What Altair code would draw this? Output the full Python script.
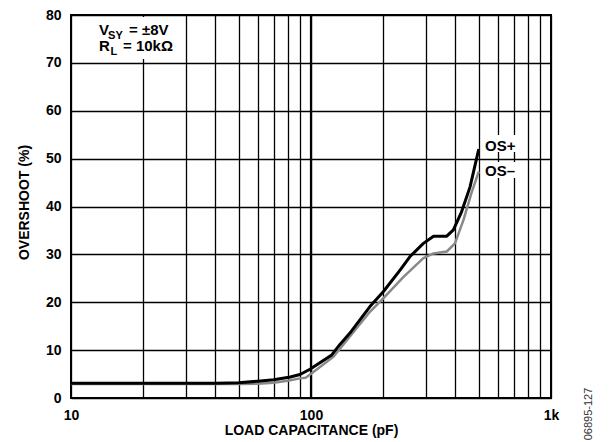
import altair as alt
import pandas as pd

# OS+ (black) curve
cap_pos = [10, 20, 30, 40, 50, 60, 70, 82, 90, 99, 122, 132, 145, 176, 200, 235, 258, 294, 324, 368, 392, 424, 460, 500]
os_pos = [3.1, 3.1, 3.1, 3.1, 3.2, 3.5, 3.8, 4.4, 4.9, 6.0, 9.0, 11.2, 13.5, 19.1, 22.2, 26.7, 29.5, 32.3, 33.8, 33.8, 35.1, 38.9, 44.1, 52.0]
# OS- (gray) curve
cap_neg = [10, 20, 30, 40, 50, 60, 70, 80, 90, 95, 102, 124, 145, 176, 200, 243, 294, 324, 368, 398, 432, 466, 500]
os_neg = [2.9, 2.9, 2.9, 2.9, 2.9, 3.0, 3.2, 3.6, 4.1, 4.25, 5.4, 8.6, 12.8, 18.0, 20.8, 25.3, 29.2, 30.2, 30.6, 32.3, 37.2, 42.8, 47.3]

x_grid = [10, 20, 30, 40, 50, 60, 70, 80, 90, 100, 200, 300, 400, 500, 600, 700, 800, 900, 1000]
y_ticks = [0, 10, 20, 30, 40, 50, 60, 70, 80]
decade_lines = [100]

# annotation texts (positions in data units)
ann_text = ["V", "SY", "= \u00b18V", "R", "L", "= 10k\u03a9", "OS+", "OS\u2013"]
ann_x = [13.08, 14.27, 17.45, 13.08, 14.61, 16.47, 531, 531]
ann_y = [75.89, 75.05, 75.89, 72.42, 71.58, 72.42, 51.66, 46.37]
ann_size = [15, 11, 15, 15, 11, 15, 15, 15]

# white backgrounds behind annotations
box_x = [12.59, 520.7, 520.7]
box_x2 = [28.47, 728.6, 728.6]
box_y = [70.81, 51.38, 45.95]
box_y2 = [79.58, 54.93, 49.29]

FONT = "Liberation Sans"

df_pos = pd.DataFrame({"cap": cap_pos, "os": os_pos})
df_neg = pd.DataFrame({"cap": cap_neg, "os": os_neg})
df_ann = pd.DataFrame({"t": ann_text, "ax": ann_x, "ay": ann_y, "s": ann_size})
df_box = pd.DataFrame({"bx": box_x, "bx2": box_x2, "by": box_y, "by2": box_y2})
df_rule = pd.DataFrame({"cap": decade_lines})

label_expr = "datum.value == 10 ? '10' : datum.value == 100 ? '100' : datum.value == 1000 ? '1k' : ''"

xscale = alt.Scale(type="log", domain=[10, 1000], nice=False)
yscale = alt.Scale(domain=[0, 80], nice=False)

xaxis = alt.Axis(values=x_grid, labelExpr=label_expr, labelFlush=False, labelOverlap=False,
                 labelPadding=10, title="LOAD CAPACITANCE (pF)", titleY=36,
                 titleBaseline="alphabetic")
yaxis = alt.Axis(values=y_ticks, labelPadding=10, title="OVERSHOOT (%)", titleAngle=270,
                 titleX=-43, titleY=187, titleBaseline="alphabetic", titleAlign="center")

gray_line = alt.Chart(df_neg).mark_line(color="#898989", strokeWidth=2.5, strokeJoin="round").encode(
    x=alt.X("cap:Q", scale=xscale, axis=xaxis),
    y=alt.Y("os:Q", scale=yscale, axis=yaxis),
)
black_line = alt.Chart(df_pos).mark_line(color="black", strokeWidth=3, strokeJoin="round").encode(
    x=alt.X("cap:Q", scale=xscale),
    y=alt.Y("os:Q", scale=yscale),
)
rule = alt.Chart(df_rule).mark_rule(color="black", strokeWidth=2.2).encode(
    x=alt.X("cap:Q", scale=xscale)
)
boxes = alt.Chart(df_box).mark_rect(fill="white").encode(
    x=alt.X("bx:Q", scale=xscale), x2="bx2:Q",
    y=alt.Y("by:Q", scale=yscale), y2="by2:Q",
)
texts = alt.Chart(df_ann).mark_text(font=FONT, fontWeight="bold", align="left",
                                     baseline="alphabetic", color="black").encode(
    x=alt.X("ax:Q", scale=xscale),
    y=alt.Y("ay:Q", scale=yscale),
    text="t:N",
    size=alt.Size("s:Q", scale=None, legend=None),
)
side = alt.Chart(pd.DataFrame({"t": ["06895-127"]})).mark_text(
    font=FONT, fontSize=11, angle=270, align="center", baseline="middle", color="#333333"
).encode(text="t:N", x=alt.value(517.5), y=alt.value(399))

chart = alt.layer(rule, boxes, gray_line, black_line, texts, side).properties(
    width=480, height=383,
    autosize=alt.AutoSizeParams(type="none"),
    padding={"left": 63, "top": 7, "right": 51, "bottom": 44},
).configure_view(stroke="black", strokeWidth=2).configure_axis(
    grid=True, gridColor="black", gridWidth=1.3, gridOpacity=1,
    domain=False, ticks=False,
    labelFont=FONT, labelFontWeight="bold", labelFontSize=14, labelColor="black",
    titleFont=FONT, titleFontWeight="bold", titleFontSize=14, titleColor="black",
)

chart.save("out.html", embed_options={"renderer": "svg", "actions": False})
